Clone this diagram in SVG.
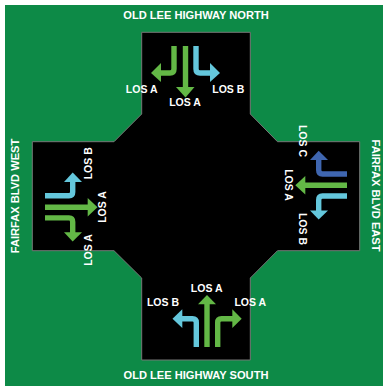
<svg xmlns="http://www.w3.org/2000/svg" width="383" height="386" viewBox="0 0 383 386">
<defs><style>
text{font-family:"Liberation Sans",Arial,sans-serif;font-weight:bold;font-size:10.5px;fill:#fff;text-anchor:middle}
.t{font-size:11.1px}
.a{fill:none;stroke-width:5.4}
.g{stroke:#63b846}.c{stroke:#64c7dc}.b{stroke:#3f66b0}
.fg{fill:#63b846}.fc{fill:#64c7dc}.fb{fill:#3f66b0}
</style></defs>
<rect x="0" y="0" width="383" height="386" fill="#fff"/>
<rect x="5" y="5" width="378" height="381" fill="#0d8a47"/>
<path id="intersection" d="M141.7 32.3H250.3V114L277.5 141.7H359.7V250.7H277.5L250.3 278V360H141.7V278L114 250.7H32.3V141.7H114L141.7 114Z" fill="#000" stroke="#777" stroke-width="1"/>
<g id="connectors">
<path class="a g" d="M174 46V69Q174 73 170 73H160"/><path class="fg" d="M151 73L161 63V82Z"/>
<path class="a g" d="M185.5 46V88"/><path class="fg" d="M176 87H194.500L185.500 97.500Z"/>
<path class="a c" d="M196 46V69Q196 73 200 73H211"/><path class="fc" d="M220 73L210 63V82Z"/>
<path class="a c" d="M45 195.700H69Q72.700 195.700 72.700 192V181"/><path class="fc" d="M72.700 172.500L64 182H82Z"/>
<path class="a g" d="M45 207.300H88.500"/><path class="fg" d="M97.500 207.300L87.700 198V216.500Z"/>
<path class="a g" d="M45 217.900H69Q72.700 217.900 72.700 222V233"/><path class="fg" d="M72.700 241.500L64 232.300H82Z"/>
<path class="a b" d="M347 174H322.500Q318.700 174 318.700 170V159"/><path class="fb" d="M318.700 150.700L310 160H328Z"/>
<path class="a g" d="M347 185.300H304"/><path class="fg" d="M295.300 185.300L305.300 176V194.500Z"/>
<path class="a c" d="M347 196H322.500Q318.700 196 318.700 200V211"/><path class="fc" d="M318.700 219.500L310 210.500H328Z"/>
<path class="a c" d="M196.300 347V322.500Q196.300 318.700 192.500 318.700H181"/><path class="fc" d="M172.500 318.700L182.300 309.300V328Z"/>
<path class="a g" d="M207 347V303"/><path class="fg" d="M207 295L198 304.300H216Z"/>
<path class="a g" d="M217.700 347V322.500Q217.700 318.700 221.500 318.700H233"/><path class="fg" d="M241.700 318.700L232.300 309.300V328Z"/>
</g>
<g id="north"><text class="t" x="196" y="18.700">OLD LEE HIGHWAY NORTH</text><text x="141.700" y="92.700">LOS A</text><text x="185" y="106">LOS A</text><text x="228.300" y="92.700">LOS B</text></g>
<g id="south"><text class="t" x="196" y="378.700">OLD LEE HIGHWAY SOUTH</text><text x="163" y="306">LOS B</text><text x="206.700" y="291.700">LOS A</text><text x="250.300" y="306">LOS A</text></g>
<g id="west"><text class="t" transform="translate(19.300 196) rotate(-90)">FAIRFAX BLVD WEST</text><text transform="translate(92.300 163.300) rotate(-90)">LOS B</text><text transform="translate(106 207) rotate(-90)">LOS A</text><text transform="translate(92.300 250) rotate(-90)">LOS A</text></g>
<g id="east"><text class="t" transform="translate(372.300 195.500) rotate(90)">FAIRFAX BLVD EAST</text><text transform="translate(298.700 141) rotate(90)">LOS C</text><text transform="translate(285.300 185) rotate(90)">LOS A</text><text transform="translate(298.700 229) rotate(90)">LOS B</text></g>
</svg>
